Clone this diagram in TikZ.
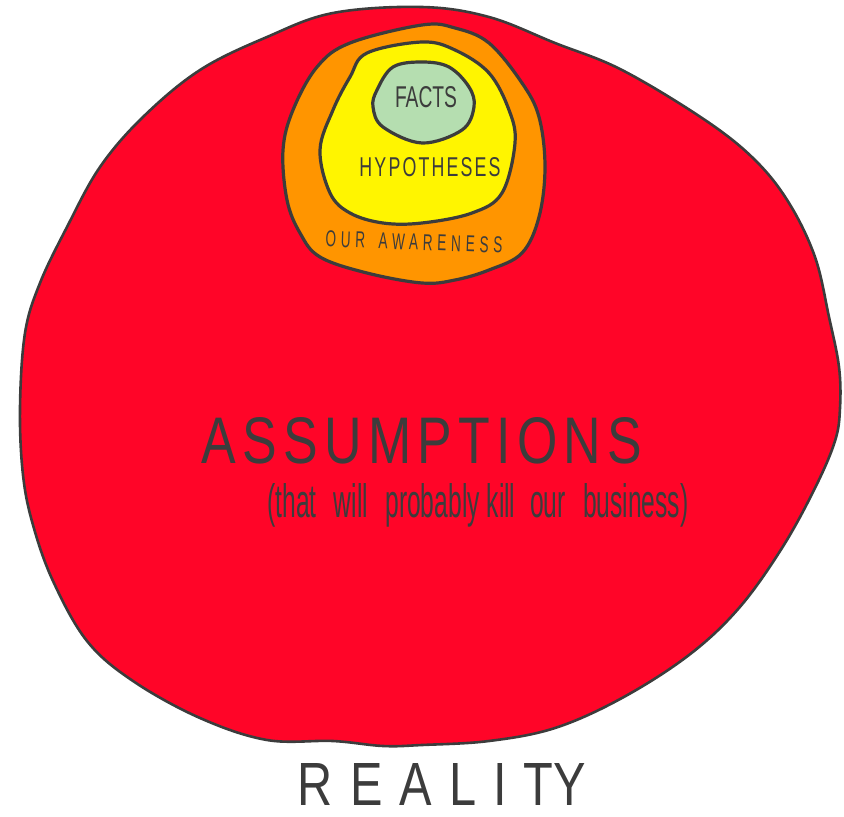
\documentclass[tikz,border=0pt]{standalone}
\usepackage{fontspec}
\setmainfont{Liberation Sans}
\newfontfamily\spacedfont[LetterSpace=12]{Liberation Sans}
\newfontfamily\widefont[LetterSpace=35]{Liberation Sans}
\usepackage{graphicx}
\definecolor{redfill}{HTML}{FF0528}
\definecolor{orangefill}{HTML}{FF9500}
\definecolor{yellowfill}{HTML}{FFF500}
\definecolor{greenfill}{HTML}{B5DEB0}
\definecolor{ink}{HTML}{3C3C3C}
\tikzset{
  blob/.style={draw=ink, line width=3.2pt, line join=round},
  outerblob/.style={draw=ink, line width=2.6pt, line join=round},
  lbl/.style={text=ink, inner sep=0pt, anchor=center}
}
\begin{document}
\begin{tikzpicture}[x=1pt,y=-1pt]
\useasboundingbox (0,0) rectangle (844,817);
% Reality (assumptions)
\filldraw[outerblob, fill=redfill] plot[smooth cycle, tension=0.6] coordinates {
(422,7) (489,17) (555,43) (622,70) (705,120) (755,160) (789,203) (815,257) (829,317) (839,367) (840,408) (835,441) (815,488) (782,548) (739,608) (689,655) (622,698) (555,728) (489,741) (422,745) (383,746) (333,741) (267,740) (200,718) (133,681) (87,641) (53,581) (33,525) (23,475) (20,408) (25,333) (40,283) (67,227) (100,167) (143,117) (200,70) (267,37) (333,13)};
% awareness
\filldraw[blob, fill=orangefill] plot[smooth cycle, tension=0.6] coordinates {
(422,25) (455,28) (489,43) (522,83) (539,117) (545,167) (539,217) (522,253) (489,270) (455,280) (422,283) (367,273) (320,257) (300,233) (287,200) (283,150) (293,110) (317,67) (350,43)};
% hypotheses
\filldraw[blob, fill=yellowfill] plot[smooth cycle, tension=0.6] coordinates {
(422,42) (455,50) (489,73) (509,110) (515,143) (502,193) (472,213) (422,223) (383,223) (350,213) (330,193) (320,150) (333,110) (350,77) (367,53)};
% facts
\filldraw[blob, fill=greenfill] plot[smooth cycle, tension=0.6] coordinates {
(422,62) (449,67) (469,87) (474,107) (462,130) (422,143) (383,127) (373,107) (377,90) (393,67)};
% texts
\node[lbl] (facts) at (426,97) {\resizebox{62pt}{21pt}{FACTS}};
\node[lbl] (hyp) at (430,167) {\resizebox{141pt}{19pt}{\spacedfont HYPOTHESES}};
\node[lbl, rotate=-2] (aware) at (414,242) {\resizebox{177pt}{16pt}{\widefont OUR\hspace{1em}AWARENESS}};
\node[lbl] (assump) at (422,441) {\resizebox{440pt}{46pt}{\spacedfont ASSUMPTIONS}};
\node[lbl] (sub) at (478,505) {\resizebox{421pt}{34pt}{(that\hspace{0.7em}will\hspace{0.7em}probably kill\hspace{0.6em}our\hspace{0.7em}business)}};
\node[lbl] (reality) at (442,784) {\resizebox{288pt}{42pt}{\widefont REALIT\kern0ptY}};
\end{tikzpicture}
\end{document}
